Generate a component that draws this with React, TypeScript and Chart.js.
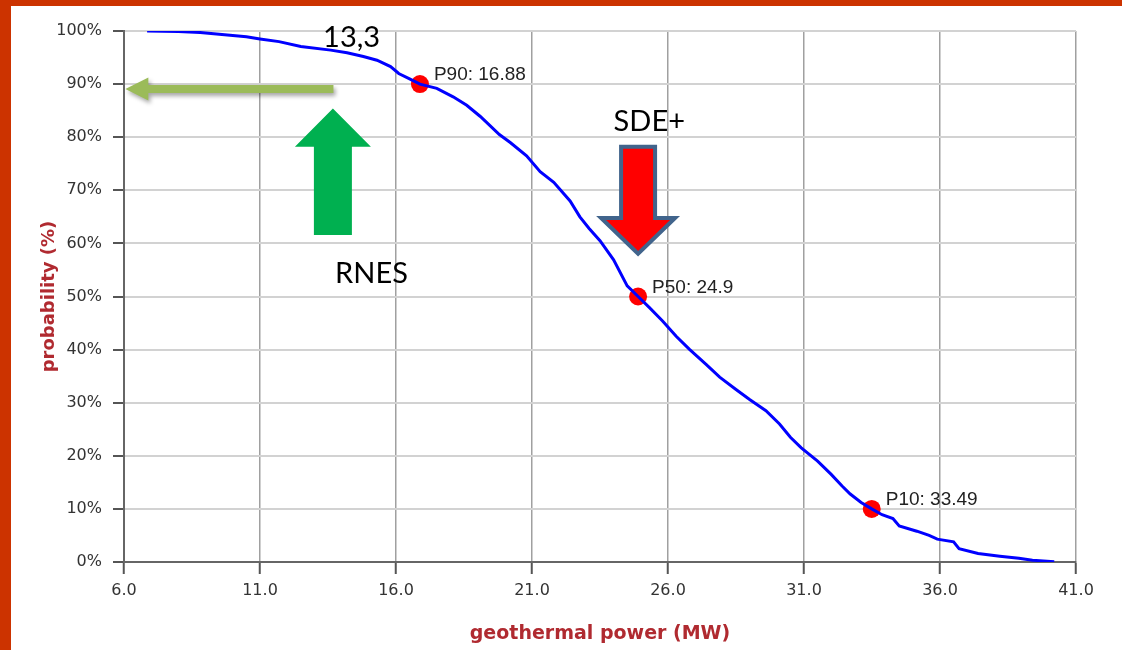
import React, { useEffect, useRef } from 'react';
import { Chart, registerables } from 'chart.js';

Chart.register(...registerables);

// ---- data ----
const powerMW = [
  6.85, 8.0, 8.8, 9.9, 10.5, 11.0, 11.7, 12.5, 13.6, 14.2, 14.8, 15.3, 15.8, 16.1, 16.5, 16.88,
  17.5, 18.1, 18.6, 19.1, 19.8, 20.2, 20.8, 21.3, 21.8, 22.4, 22.76, 23.1, 23.5, 24.0, 24.5, 24.9,
  25.3, 25.8, 26.3, 26.8, 27.4, 27.9, 28.5, 29.0, 29.6, 30.1, 30.5, 30.9, 31.5, 32.0, 32.4, 32.7,
  33.1, 33.49, 33.87, 34.27, 34.5, 35.15, 35.6, 35.9, 36.5, 36.7, 37.4, 38.2, 38.9, 39.4, 40.2,
];
const probability = [
  100, 99.9, 99.7, 99.2, 98.9, 98.5, 98.0, 97.1, 96.4, 95.9, 95.2, 94.5, 93.3, 92.0, 91.0, 90.0,
  89.2, 87.6, 86.0, 83.9, 80.5, 79.0, 76.5, 73.5, 71.5, 68.0, 65.0, 62.8, 60.5, 56.9, 52.0, 50.0,
  48.0, 45.4, 42.5, 40.0, 37.2, 34.8, 32.5, 30.6, 28.5, 26.0, 23.5, 21.5, 19.0, 16.5, 14.3, 12.8,
  11.2, 10.0, 8.9, 8.2, 6.8, 5.8, 5.0, 4.3, 3.8, 2.5, 1.6, 1.1, 0.7, 0.35, 0.05,
];
const markerPower = [16.88, 24.9, 33.49];
const markerProb = [90, 50, 10];
const markerLabels = ['P90: 16.88', 'P50: 24.9', 'P10: 33.49'];
const xTicks = [6, 11, 16, 21, 26, 31, 36, 41];
const yTicks = [0, 10, 20, 30, 40, 50, 60, 70, 80, 90, 100];
const xTitle = 'geothermal power (MW)';
const yTitle = 'probability (%)';
const noteTexts = ['13,3', 'RNES', 'SDE+'];
const noteX = [13.32, 13.76, 24.0];
const noteY = [97.0, 52.6, 81.1];
// arrows, in data units
const leftArrow = { fromX: 13.7, toX: 6.05, y: 89.1 };
const upArrow = { x: 13.68, bottom: 61.6, headBase: 78.2, tip: 85.4 };
const downArrow = { x: 24.9, top: 78.6, headBase: 64.8, tip: 57.5 };

const annotationPlugin = {
  id: 'annotations',
  afterDraw(chart: any) {
    const ctx = chart.ctx as CanvasRenderingContext2D;
    const xs = chart.scales.x;
    const ys = chart.scales.y;
    const px = (v: number) => xs.getPixelForValue(v);
    const py = (v: number) => ys.getPixelForValue(v);

    // point labels
    ctx.save();
    ctx.font = '19px "Liberation Sans", Arial, sans-serif';
    ctx.fillStyle = '#222';
    ctx.textBaseline = 'alphabetic';
    ctx.textAlign = 'left';
    markerLabels.forEach((t, i) => {
      ctx.fillText(t, px(markerPower[i]) + 14, py(markerProb[i]) - 4);
    });
    ctx.restore();

    // olive left arrow with shadow
    ctx.save();
    ctx.shadowColor = 'rgba(0,0,0,0.35)';
    ctx.shadowBlur = 4;
    ctx.shadowOffsetX = 2;
    ctx.shadowOffsetY = 3;
    ctx.fillStyle = '#9bbb59';
    {
      const y = py(leftArrow.y);
      const x0 = px(leftArrow.fromX);
      const x1 = px(leftArrow.toX);
      const hl = 23, hh = 11.5, sh = 4;
      ctx.beginPath();
      ctx.moveTo(x1, y);
      ctx.lineTo(x1 + hl, y - hh);
      ctx.lineTo(x1 + hl, y - sh);
      ctx.lineTo(x0, y - sh);
      ctx.lineTo(x0, y + sh);
      ctx.lineTo(x1 + hl, y + sh);
      ctx.lineTo(x1 + hl, y + hh);
      ctx.closePath();
      ctx.fill();
    }
    ctx.restore();

    // green up arrow
    ctx.save();
    ctx.fillStyle = '#00b050';
    {
      const cx = px(upArrow.x);
      const b = py(upArrow.bottom);
      const hb = py(upArrow.headBase);
      const t = py(upArrow.tip);
      const sw = 19, hw = 38;
      ctx.beginPath();
      ctx.moveTo(cx, t);
      ctx.lineTo(cx + hw, hb);
      ctx.lineTo(cx + sw, hb);
      ctx.lineTo(cx + sw, b);
      ctx.lineTo(cx - sw, b);
      ctx.lineTo(cx - sw, hb);
      ctx.lineTo(cx - hw, hb);
      ctx.closePath();
      ctx.fill();
    }
    ctx.restore();

    // red down arrow with slate border
    ctx.save();
    ctx.fillStyle = '#ff0000';
    ctx.strokeStyle = '#41648c';
    ctx.lineWidth = 4;
    ctx.lineJoin = 'miter';
    {
      const cx = px(downArrow.x);
      const top = py(downArrow.top) + 2;
      const hb = py(downArrow.headBase);
      const t = py(downArrow.tip) - 3;
      const sw = 17, hw = 37;
      ctx.beginPath();
      ctx.moveTo(cx - sw, top);
      ctx.lineTo(cx + sw, top);
      ctx.lineTo(cx + sw, hb);
      ctx.lineTo(cx + hw, hb);
      ctx.lineTo(cx, t);
      ctx.lineTo(cx - hw, hb);
      ctx.lineTo(cx - sw, hb);
      ctx.closePath();
      ctx.fill();
      ctx.stroke();
    }
    ctx.restore();

    // note texts
    ctx.save();
    ctx.font = '29px Lato, "Open Sans", sans-serif';
    ctx.fillStyle = '#000';
    ctx.textBaseline = 'alphabetic';
    ctx.textAlign = 'left';
    noteTexts.forEach((t, i) => {
      ctx.fillText(t, px(noteX[i]), py(noteY[i]));
    });
    ctx.restore();
  },
};

export default function App() {
  const ref = useRef<HTMLCanvasElement | null>(null);

  useEffect(() => {
    if (!ref.current) return;
    const chart = new Chart(ref.current, {
      type: 'line',
      data: {
        datasets: [
          {
            label: 'curve',
            data: powerMW.map((x, i) => ({ x, y: probability[i] })),
            borderColor: '#0000ff',
            borderWidth: 3,
            pointRadius: 0,
            tension: 0,
            fill: false,
          },
          {
            label: 'markers',
            data: markerPower.map((x, i) => ({ x, y: markerProb[i] })),
            showLine: false,
            pointRadius: 9,
            pointBackgroundColor: '#ff0000',
            pointBorderColor: '#ff0000',
            pointBorderWidth: 0,
          },
        ],
      },
      options: {
        responsive: false,
        animation: false,
        events: [],
        layout: { padding: { left: 39, top: 31, right: 46, bottom: 0 } },
        plugins: { legend: { display: false }, tooltip: { enabled: false } },
        scales: {
          x: {
            type: 'linear',
            min: 6,
            max: 41,
            afterBuildTicks: (s: any) => {
              s.ticks = xTicks.map((v) => ({ value: v }));
            },
            afterFit: (s: any) => {
              s.height = 88;
            },
            grid: { color: '#a0a0a0', lineWidth: 1.5, tickLength: 12, tickColor: '#555', tickWidth: 2 },
            border: { color: '#666', width: 2 },
            ticks: {
              callback: (v: any) => Number(v).toFixed(1),
              font: { family: 'DejaVu Sans', size: 16 },
              color: '#333',
              padding: 7,
              maxRotation: 0,
              autoSkip: false,
            },
            title: {
              display: true,
              text: xTitle,
              color: '#b02a30',
              font: { family: 'DejaVu Sans', size: 19, weight: 'bold' },
              padding: { top: 0, bottom: 5 },
            },
          },
          y: {
            type: 'linear',
            min: 0,
            max: 100,
            afterBuildTicks: (s: any) => {
              s.ticks = yTicks.map((v) => ({ value: v }));
            },
            afterFit: (s: any) => {
              s.width = 85;
            },
            grid: { color: '#d2d2d2', lineWidth: 2, tickLength: 11, tickColor: '#555', tickWidth: 2 },
            border: { color: '#666', width: 2 },
            ticks: {
              callback: (v: any) => v + '%',
              font: { family: 'DejaVu Sans', size: 16 },
              color: '#333',
              padding: 11,
              autoSkip: false,
            },
            title: {
              display: true,
              text: yTitle,
              color: '#b02a30',
              font: { family: 'DejaVu Sans', size: 18, weight: 'bold' },
              padding: { top: 0, bottom: 0 },
            },
          },
        },
      },
      plugins: [annotationPlugin],
    } as any);
    return () => chart.destroy();
  }, []);

  return (
    <div style={{ position: 'fixed', left: 0, top: 0, width: 1122, height: 650, background: '#fff', overflow: 'hidden' }}>
      <canvas ref={ref} width={1122} height={650} style={{ position: 'absolute', left: 0, top: 0, width: 1122, height: 650 }} />
      <div style={{ position: 'absolute', left: 0, top: 0, width: 1122, height: 6, background: '#cc3300' }} />
      <div style={{ position: 'absolute', left: 0, top: 0, width: 11, height: 650, background: '#cc3300' }} />
    </div>
  );
}
